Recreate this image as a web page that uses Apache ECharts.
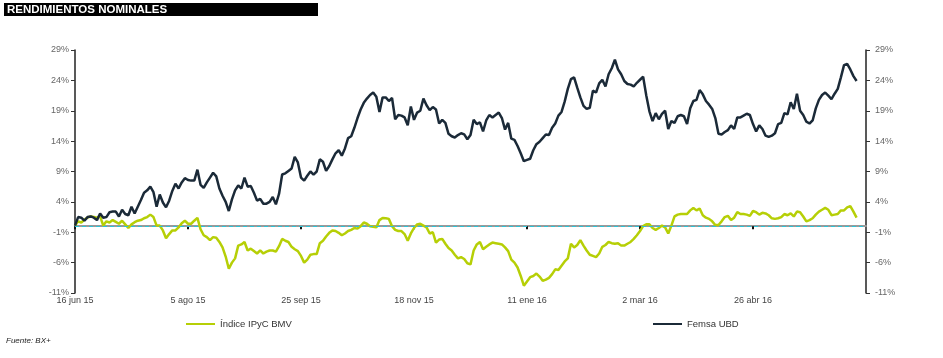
<!DOCTYPE html>
<html>
<head>
<meta charset="utf-8">
<title>Rendimientos nominales</title>
<script src="https://cdn.jsdelivr.net/npm/echarts@6/dist/echarts.min.js"></script>
<style>
  html, body { margin: 0; padding: 0; background: #fff; }
  #chart { width: 943px; height: 358px; }
</style>
</head>
<body>
<div id="chart"></div>
<script>
// trading days of the BMV, 16 jun 2015 .. 15 jun 2016
const startDate = '2015-06-16'
const endDate = '2016-06-15'
const holidays = ['2015-09-16', '2015-11-02', '2015-11-16', '2015-12-25', '2016-01-01',
  '2016-02-01', '2016-03-21', '2016-03-24', '2016-03-25']
const monthNames = ['ene', 'feb', 'mar', 'abr', 'may', 'jun', 'jul', 'ago', 'sep', 'oct', 'nov', 'dic']

const tickLabels = ['16 jun 15', '5 ago 15', '25 sep 15', '18 nov 15', '11 ene 16', '2 mar 16', '26 abr 16']
const yTicks = { min: -11, max: 29, step: 5 }

// rendimiento acumulado, %
const ipc = [
  0.1, 0.8, 0.6, 1.1, 1.4, 1.6, 1.5, 1.4, 1.6, 0.1,
  0.8, 0.6, 1.0, 0.7, 0.4, 0.9, 0.3, -0.3, 0.3, 0.65,
  0.9, 1.0, 1.3, 1.5, 1.9, 1.5, 0.1, 0.1, -0.7, -2.0,
  -1.3, -0.7, -0.7, -0.2, 0.5, 0.9, 0.4, 0.4, 0.9, 1.36,
  -0.5, -1.5, -1.8, -2.3, -1.8, -1.9, -2.6, -3.5, -5.0, -7.0,
  -6.0, -5.3, -3.2, -3.0, -2.6, -4.0, -3.7, -4.1, -4.5, -4.0,
  -4.5, -4.2, -4.0, -4.0, -4.2, -3.3, -2.1, -2.4, -2.6, -3.4,
  -3.8, -4.1, -4.9, -6.0, -5.5, -4.7, -4.6, -4.6, -2.8, -2.4,
  -1.7, -1.1, -0.7, -0.8, -1.1, -1.5, -1.2, -0.8, -0.6, -0.3,
  -0.4, 0.0, 0.6, 0.4, 0.0, -0.1, -0.2, 1.0, 1.36, 1.3,
  1.2, 0.0, -0.6, -0.8, -0.8, -1.3, -2.4, -1.2, -0.3, 0.3,
  0.4, 0.1, -0.2, -1.2, -1.0, -2.7, -2.2, -2.1, -2.9, -3.6,
  -4.0, -4.7, -5.3, -5.1, -5.4, -6.1, -6.3, -4.0, -3.0, -2.6,
  -3.8, -3.4, -3.0, -2.7, -2.8, -2.9, -3.0, -3.5, -4.1, -5.5,
  -6.0, -6.8, -8.2, -9.8, -9.1, -8.4, -8.2, -7.8, -8.3, -9.0,
  -8.8, -8.5, -7.9, -7.1, -7.2, -6.5, -5.8, -5.3, -2.9, -3.5,
  -3.1, -2.3, -3.2, -4.0, -4.7, -4.9, -5.1, -4.5, -3.4, -3.1,
  -2.6, -2.8, -2.9, -2.8, -3.2, -3.2, -2.9, -2.6, -2.1, -1.5,
  -0.8, 0.0, 0.3, 0.3, -0.3, -0.6, -0.3, 0.1, -0.2, -1.2,
  0.1, 1.6, 1.9, 2.0, 2.0, 2.0, 2.6, 3.0, 2.6, 2.9,
  1.8, 1.4, 1.2, 0.8, 0.2, 0.2, 0.8, 1.5, 1.7, 1.0,
  1.4, 2.3, 2.0, 2.0, 1.9, 1.7, 2.5, 2.3, 1.9, 2.2,
  2.1, 1.8, 1.3, 1.2, 1.3, 1.5, 2.0, 1.8, 2.1, 1.6,
  2.4, 2.3, 1.6, 0.8, 1.0, 1.3, 1.9, 2.4, 2.7, 3.0,
  2.7, 1.8, 1.9, 2.0, 2.6, 2.6, 3.1, 3.3, 2.4, 1.4
]

const femsa = [
  0.1, 1.5, 1.4, 0.9, 1.5, 1.6, 1.4, 1.0, 2.1, 1.4,
  1.5, 2.3, 2.4, 2.4, 1.6, 2.7, 2.0, 1.8, 3.2, 2.1,
  3.2, 4.3, 5.5, 5.9, 6.5, 5.6, 3.2, 5.2, 3.9, 3.1,
  4.2, 5.8, 7.0, 6.2, 7.2, 7.9, 7.6, 7.5, 7.5, 9.3,
  6.8, 6.3, 7.2, 8.0, 8.8, 8.2, 6.2, 5.0, 4.0, 2.5,
  4.4, 5.9, 6.7, 6.2, 8.0, 6.5, 6.6, 5.5, 4.2, 4.5,
  3.7, 3.7, 4.0, 4.8, 3.6, 5.3, 8.5, 8.7, 9.1, 9.5,
  11.4, 10.5, 8.0, 7.5, 8.3, 9.0, 8.5, 9.0, 11.0, 10.6,
  9.1, 9.9, 11.0, 12.0, 12.5, 11.6, 12.8, 14.5, 14.8, 16.2,
  17.8, 19.2, 20.3, 21.0, 21.6, 22.0, 21.3, 18.8, 21.2, 21.2,
  20.6, 21.1, 17.6, 18.3, 18.2, 17.9, 16.6, 19.7, 17.5, 18.7,
  19.0, 21.0, 19.9, 19.1, 19.6, 19.2, 16.9, 17.5, 17.0, 15.2,
  14.8, 14.6, 15.0, 15.3, 15.1, 14.3, 15.0, 17.5, 16.8, 17.1,
  15.6, 17.4, 18.3, 17.9, 18.3, 18.7, 17.8, 15.9, 17.0, 14.4,
  14.2, 13.2, 12.0, 10.7, 10.9, 11.1, 12.5, 13.5, 13.9, 14.5,
  15.1, 15.0, 16.2, 16.9, 18.2, 18.8, 20.5, 22.6, 24.2, 24.5,
  22.8, 21.2, 19.8, 19.3, 19.5, 22.3, 22.0, 23.5, 24.1, 23.0,
  25.0, 26.0, 27.4, 25.8, 25.0, 23.9, 23.4, 23.3, 23.0, 23.6,
  24.1, 24.6, 21.5, 18.9, 17.3, 18.6, 17.6, 18.5, 19.0, 16.0,
  17.3, 17.0, 18.1, 18.3, 18.1, 16.8, 19.4, 20.6, 20.8, 22.4,
  21.7, 20.6, 20.0, 19.3, 17.8, 15.2, 15.1, 15.5, 15.8, 16.6,
  16.0, 17.9, 17.9, 18.2, 18.5, 18.3, 16.8, 15.6, 16.6, 16.0,
  14.9, 14.7, 14.9, 15.3, 16.8, 17.0, 18.6, 18.4, 20.4, 19.3,
  21.8, 19.0, 18.3, 17.2, 16.9, 17.4, 19.4, 20.8, 21.6, 22.0,
  21.5, 20.9, 21.8, 22.6, 24.5, 26.5, 26.7, 25.8, 24.7, 23.9
]

function tradingDays() {
  const out = []
  const d = new Date(startDate + 'T00:00:00Z')
  const end = new Date(endDate + 'T00:00:00Z')
  while (d <= end) {
    const iso = d.toISOString().slice(0, 10)
    const wd = d.getUTCDay()
    if (wd !== 0 && wd !== 6 && holidays.indexOf(iso) < 0) {
      out.push(d.getUTCDate() + ' ' + monthNames[d.getUTCMonth()] + ' ' + String(d.getUTCFullYear()).slice(2))
    }
    d.setUTCDate(d.getUTCDate() + 1)
  }
  return out
}
const days = tradingDays()

const FONT = '"Liberation Sans", Arial, sans-serif'
const isTick = function(idx, val) { return tickLabels.indexOf(val) >= 0 }

function yAxisCfg(position, margin) {
  return {
    type: 'value',
    position: position,
    min: yTicks.min,
    max: yTicks.max,
    interval: yTicks.step,
    axisLine: { show: true, onZero: false, lineStyle: { color: '#222', width: 1.5 } },
    axisTick: { show: true, length: 4, lineStyle: { color: '#333' } },
    splitLine: { show: false },
    axisLabel: {
      margin: margin,
      color: '#666',
      fontSize: 9,
      fontFamily: FONT,
      formatter: function(v) { return v + '%' }
    }
  }
}

const chart = echarts.init(document.getElementById('chart'))
chart.setOption({
  backgroundColor: '#fff',
  animation: false,
  grid: { left: 75, right: 77, top: 50, bottom: 65 },
  graphic: [
    { type: 'rect', left: 4, top: 3, shape: { width: 314, height: 13 }, style: { fill: '#000' } },
    { type: 'text', left: 7, top: 4, style: { text: 'RENDIMIENTOS NOMINALES', fill: '#fff', font: 'bold 11.5px ' + FONT } },
    { type: 'text', left: 6, top: 337, style: { text: 'Fuente: BX+', fill: '#222', font: 'italic 8px ' + FONT } }
  ],
  legend: [
    {
      data: ['Índice IPyC BMV'], left: 181, top: 314, icon: 'rect', itemWidth: 29, itemHeight: 2, itemGap: 3,
      textStyle: { fontSize: 9.5, color: '#333', fontFamily: FONT }
    },
    {
      data: ['Femsa UBD'], left: 648, top: 314, icon: 'rect', itemWidth: 29, itemHeight: 2, itemGap: 3,
      textStyle: { fontSize: 9.5, color: '#333', fontFamily: FONT }
    }
  ],
  xAxis: [
    {
      type: 'category',
      data: days,
      position: 'bottom',
      boundaryGap: false,
      axisLine: { show: false, onZero: false },
      axisTick: { show: false },
      axisLabel: { interval: isTick, margin: 3, color: '#444', fontSize: 9, fontFamily: FONT }
    },
    {
      type: 'category',
      data: days,
      position: 'bottom',
      boundaryGap: false,
      axisLine: { show: true, onZero: true, lineStyle: { color: '#9a9a9a', width: 2 } },
      axisTick: { show: true, interval: isTick, length: 3, lineStyle: { color: '#111', width: 2 } },
      axisLabel: { show: false }
    }
  ],
  yAxis: [yAxisCfg('left', 6), yAxisCfg('right', 9)],
  series: [
    {
      name: 'Índice IPyC BMV',
      type: 'line',
      data: ipc,
      showSymbol: false,
      color: '#b6cf06',
      lineStyle: { width: 2.5, color: '#b6cf06' },
      markLine: {
        silent: true,
        symbol: ['none', 'none'],
        label: { show: false },
        lineStyle: { color: '#2cc3d6', type: [4, 3], width: 1 },
        data: [{ yAxis: 0 }]
      }
    },
    {
      name: 'Femsa UBD',
      type: 'line',
      data: femsa,
      showSymbol: false,
      color: '#1b2a38',
      lineStyle: { width: 2.5, color: '#1b2a38' }
    }
  ]
})
</script>
</body>
</html>
